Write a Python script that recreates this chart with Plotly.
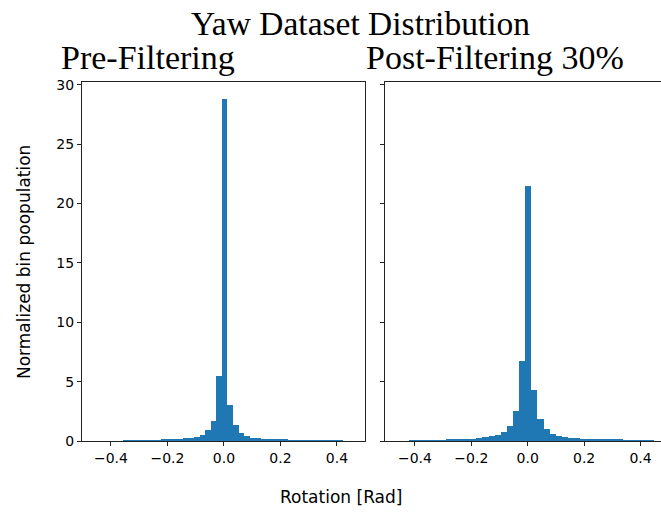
import numpy as np
import plotly.graph_objects as go

# ---- data ----
pre_range = [-0.359, 0.423]
pre_density = [0.04, 0.05, 0.05, 0.06, 0.06, 0.07, 0.08, 0.09, 0.12, 0.17,
               0.17, 0.25, 0.27, 0.34, 0.50, 0.90, 1.68, 5.48, 28.8, 3.03,
               1.32, 0.70, 0.42, 0.27, 0.24, 0.17, 0.16, 0.15, 0.12, 0.09,
               0.08, 0.08, 0.07, 0.07, 0.06, 0.06, 0.05, 0.05, 0.05, 0.04]

post_range = [-0.423, 0.445]
post_density = [0.05, 0.05, 0.06, 0.06, 0.07, 0.08, 0.10, 0.12, 0.17, 0.17,
                0.20, 0.28, 0.30, 0.39, 0.53, 0.79, 1.24, 2.50, 6.77, 21.5,
                4.27, 1.85, 1.04, 0.59, 0.42, 0.31, 0.26, 0.25, 0.18, 0.17,
                0.16, 0.16, 0.15, 0.13, 0.09, 0.08, 0.08, 0.07, 0.07, 0.06]

x_tick_vals = [-0.4, -0.2, 0.0, 0.2, 0.4]
x_tick_text = ["\u22120.4", "\u22120.2", "0.0", "0.2", "0.4"]
y_tick_vals = [0, 5, 10, 15, 20, 25, 30]

title = "Yaw Dataset Distribution"
sub_titles = ["Pre-Filtering", "Post-Filtering 30%"]
x_label = "Rotation [Rad]"
y_label = "Normalized bin poopulation"

BLUE = "#1f77b4"


def bins(rng, vals):
    n = len(vals)
    edges = np.linspace(rng[0], rng[1], n + 1)
    centers = (edges[:-1] + edges[1:]) / 2
    width = edges[1] - edges[0]
    return centers, width


fig = go.Figure()
c1, w1 = bins(pre_range, pre_density)
c2, w2 = bins(post_range, post_density)
fig.add_trace(go.Bar(x=c1, y=pre_density, width=w1, marker=dict(color=BLUE, line=dict(width=0)),
                     xaxis="x", yaxis="y", showlegend=False))
fig.add_trace(go.Bar(x=c2, y=post_density, width=w2, marker=dict(color=BLUE, line=dict(width=0)),
                     xaxis="x2", yaxis="y2", showlegend=False))

W, H = 661, 515
ml, mr, mt, mb = 82, 0, 82, 515 - 441
pw = W - ml - mr
ph = H - mt - mb
left_dom = [0, (364.5 - ml) / pw]
right_dom = [(384.5 - ml) / pw, 1]

tickfont = dict(family="DejaVu Sans", size=14, color="black")
axcommon = dict(showgrid=False, zeroline=False, showline=True, linecolor="#222", linewidth=1,
                ticks="outside", ticklen=4, tickwidth=1, tickcolor="#222", tickfont=tickfont)

fig.update_layout(
    width=W, height=H,
    margin=dict(l=ml, r=mr, t=mt, b=mb),
    plot_bgcolor="white", paper_bgcolor="white",
    bargap=0,
    xaxis=dict(domain=left_dom, range=[-0.5025, 0.4975], anchor="y", mirror=True,
               tickvals=x_tick_vals, ticktext=x_tick_text, **axcommon),
    yaxis=dict(domain=[0, 1], range=[0, 30.24], anchor="x", mirror=True,
               tickvals=y_tick_vals, **axcommon),
    xaxis2=dict(domain=right_dom, range=[-0.508, 0.4727], anchor="y2", mirror=True,
                tickvals=x_tick_vals, ticktext=x_tick_text, **axcommon),
    yaxis2=dict(domain=[0, 1], range=[0, 30.24], anchor="x2", mirror=False,
                tickvals=y_tick_vals, showticklabels=False, **axcommon),
)


def ann(text, wx, wy, xanchor, size, family, angle=0):
    # wx, wy: window pixel coordinates
    fig.add_annotation(text=text, x=(wx - ml) / pw, y=1 - (wy - mt) / ph,
                       xref="paper", yref="paper", xanchor=xanchor, yanchor="middle",
                       showarrow=False, textangle=angle,
                       font=dict(family=family, size=size, color="black"))


SERIF = "Liberation Serif"
ann(title, 360, 23, "center", 33.5, SERIF)
ann(sub_titles[0], 59, 58, "left", 34, SERIF)
ann(sub_titles[1], 364, 58, "left", 34, SERIF)
ann(x_label, 341, 497, "center", 17, "DejaVu Sans")
ann(y_label, 24, 262, "center", 17, "DejaVu Sans", angle=-90)

fig.write_html("out.html", config={"displayModeBar": False},
               post_script="document.body.style.margin='0';document.body.style.overflow='hidden';")
